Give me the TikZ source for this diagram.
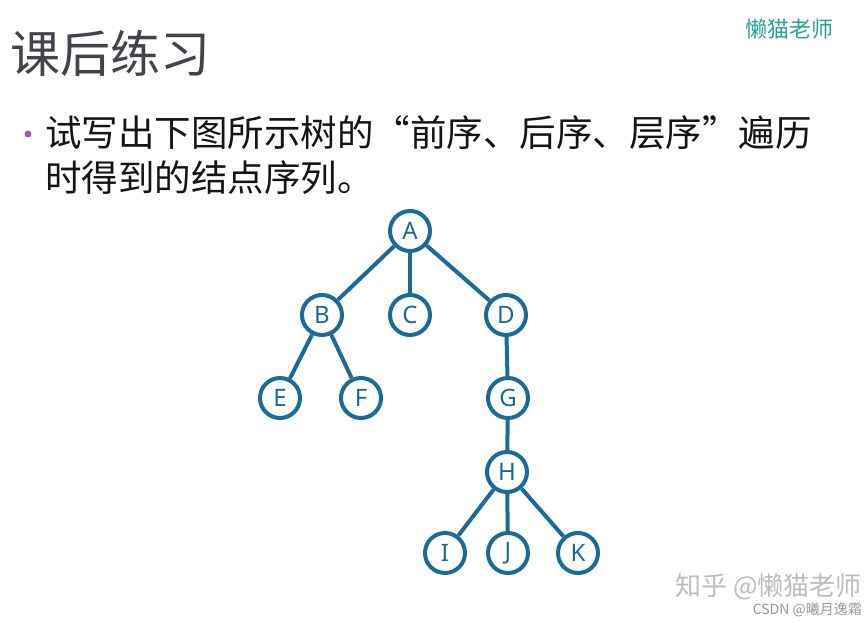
\documentclass[tikz,border=0pt]{standalone}
\usepackage{fontspec}
\setmainfont{Noto Sans}
\newfontfamily\cjk{Noto Sans CJK SC}
\definecolor{treeBlue}{HTML}{1B6A97}
\definecolor{titleGray}{HTML}{45424D}
\definecolor{textDark}{HTML}{151515}
\definecolor{markTeal}{HTML}{26A396}
\definecolor{bulletPurple}{HTML}{9A5BA8}
\definecolor{markGray}{HTML}{BDBDBD}
\usetikzlibrary{positioning}

\begin{document}
\begin{tikzpicture}[x=1pt, y=-1pt,
    treenode/.style={circle, draw=treeBlue, line width=4pt, fill=white,
                     minimum size=40pt, inner sep=0pt, text=treeBlue,
                     font=\fontsize{24}{26}\selectfont},
    edge/.style={draw=treeBlue, line width=4pt}]
  \useasboundingbox (0,0) rectangle (865,623);

  % heading and question
  \node[anchor=west, inner sep=0pt, text=titleGray] (title) at (10,53)
    {\cjk\fontsize{50}{56}\selectfont 课后练习};
  \node[anchor=east, inner sep=0pt, text=markTeal] (brand) at (834,29)
    {\cjk\fontsize{22}{24}\selectfont 懒猫老师};
  \node[circle, fill=bulletPurple, inner sep=0pt, minimum size=7pt] (bullet) at (28,134) {};
  \node[anchor=west, inner sep=0pt, text=textDark] (line1) at (45,133)
    {\cjk\fontsize{36.5}{40}\selectfont 试写出下图所示树的“前序、后序、层序”遍历};
  \node[anchor=west, inner sep=0pt, text=textDark] (line2) at (45,178)
    {\cjk\fontsize{36.5}{40}\selectfont 时得到的结点序列。};

  % the tree
  \node[treenode] (A) at (410,231) {A};
  \node[treenode] (B) at (322,315) {B};
  \node[treenode] (C) at (410,315) {C};
  \node[treenode] (D) at (506,315) {D};
  \node[treenode] (E) at (280,398) {E};
  \node[treenode] (F) at (361,398) {F};
  \node[treenode] (G) at (508,398) {G};
  \node[treenode] (H) at (507,472) {H};
  \node[treenode] (I) at (445,553) {I};
  \node[treenode] (J) at (508,553) {J};
  \node[treenode] (K) at (578,553) {K};

  \foreach \p/\c in {A/B, A/C, A/D, B/E, B/F, D/G, G/H, H/I, H/J, H/K}
    \draw[edge] (\p) -- (\c);

  % watermarks
  \node[anchor=east, inner sep=0pt, text=markGray] (zhihu) at (862,587)
    {\cjk\fontsize{26}{28}\selectfont 知乎 @懒猫老师};
  \node[anchor=east, inner sep=0pt, text=markGray!80!black] (csdn) at (862,610)
    {\cjk\fontsize{14}{16}\selectfont CSDN @曦月逸霜};
\end{tikzpicture}
\end{document}
